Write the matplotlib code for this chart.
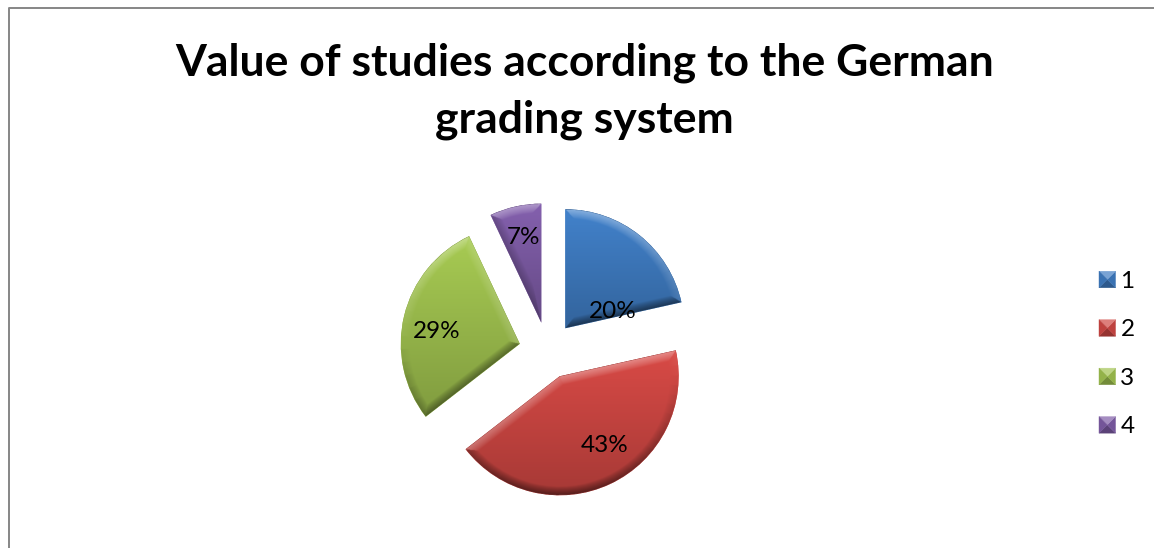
import numpy as np
import matplotlib
matplotlib.use('Agg')
import matplotlib.pyplot as plt
from matplotlib.colors import to_rgb
from matplotlib.patches import Polygon, Patch
from matplotlib.legend_handler import HandlerBase
from matplotlib.lines import Line2D

plt.rcParams['font.family'] = ['Lato', 'DejaVu Sans']

title = 'Value of studies according to the German\ngrading system'
categories = ['1', '2', '3', '4']
values = [21.5, 43, 28.5, 7]
pct_labels = ['20%', '43%', '29%', '7%']
colors = ['#3F7CC2', '#CF4743', '#A0C24F', '#7E5CA6']

W, H = 1154, 548
label_pos = [(613, 312), (605, 446), (437, 332), (523, 238)]


def shade(base, top, normal_y, edge_w):
    # base colour darkens toward the bottom, edges catch light from above
    t = np.clip(top, 0, 1)
    rgb = np.array(to_rgb(base))[None, None, :] * (1.05 - 0.25 * t)[..., None]
    light = (normal_y * edge_w)[..., None]
    rgb = np.where(light > 0, rgb + (1 - rgb) * light * 0.36, rgb * (1 + light * 0.5))
    return np.clip(rgb, 0, 1)


def bevel_image(ax, wedge, base, width=9):
    poly = wedge.get_patch_transform().transform_path(wedge.get_path()).to_polygons()[0]
    x0, y0 = np.floor(poly.min(axis=0)) - 1
    x1, y1 = np.ceil(poly.max(axis=0)) + 1
    xs = np.arange(x0, x1, 0.5) + 0.25
    ys = np.arange(y0, y1, 0.5) + 0.25
    gx, gy = np.meshgrid(xs, ys)
    best = np.full(gx.shape, np.inf)
    ny = np.zeros(gx.shape)
    for a, b in zip(poly[:-1], poly[1:]):
        d = b - a
        L = (d ** 2).sum()
        if L == 0:
            continue
        s = np.clip(((gx - a[0]) * d[0] + (gy - a[1]) * d[1]) / L, 0, 1)
        cx, cy = a[0] + s * d[0], a[1] + s * d[1]
        dist = np.hypot(gx - cx, gy - cy)
        hit = dist < best
        best[hit] = dist[hit]
        ny[hit] = ((cy - gy) / np.maximum(dist, 1e-6))[hit]
    edge_w = np.clip(1 - best / width, 0, 1) ** 0.8
    top = (y1 - gy) / (y1 - y0)
    im = ax.imshow(shade(base, top, ny, edge_w), origin='lower',
                   extent=(x0, x1, y0, y1), interpolation='bilinear',
                   aspect='equal', zorder=2)
    im.set_clip_path(wedge)


class BevelSquare(HandlerBase):
    def create_artists(self, legend, handle, xd, yd, w, h, fs, trans):
        base = np.array(to_rgb(handle.get_facecolor()))
        s = min(w, h)
        x0, y0 = -xd, -yd + (h - s) / 2
        cx, cy = x0 + s / 2, y0 + s / 2
        c = [(x0, y0), (x0 + s, y0), (x0 + s, y0 + s), (x0, y0 + s)]
        tones = [base * 0.72, base * 0.92, base + (1 - base) * 0.3, base * 0.92]
        out = []
        for i, tone in enumerate(tones):
            out.append(Polygon([c[i], c[(i + 1) % 4], (cx, cy)], closed=True,
                               facecolor=tone, edgecolor=tone, lw=0.3, transform=trans))
        return out


fig = plt.figure(figsize=(W / 100, H / 100), dpi=100)
ax = fig.add_axes([0, 0, 1, 1])

# explode is in data units here, radius is in pixels
wedges, _ = ax.pie(values, colors=colors, explode=[28.5] * 4, startangle=90,
                   counterclock=False, radius=119, center=(547.5, H - 350.5),
                   frame=True, wedgeprops={'linewidth': 0})
for w, c in zip(wedges, colors):
    bevel_image(ax, w, c)

ax.set_xlim(0, W)
ax.set_ylim(0, H)
ax.set_aspect('auto')
ax.axis('off')

for (x, y), s in zip(label_pos, pct_labels):
    ax.text(x, H - y, s, fontsize=17.5, ha='center', va='center', color='black', zorder=3)

ax.text(584.5, H - 91.5, title, fontsize=32, fontweight='bold', ha='center', va='center',
        linespacing=1.49, color='black')

# chart frame, only top and left fall inside the crop
ax.add_line(Line2D([W, 8.5, 8.5], [H - 7.5, H - 7.5, 0], color='#868686', lw=1.4))

handles = [Patch(facecolor=c, label=n) for c, n in zip(colors, categories)]
ax.legend(handles=handles, loc='upper left', bbox_to_anchor=(1099 / W, 1 - 271 / H),
          frameon=False, fontsize=17.5, borderpad=0, borderaxespad=0,
          handlelength=0.68, handleheight=0.68, handletextpad=0.2, labelspacing=1.13,
          handler_map={Patch: BevelSquare()})

fig.savefig('out.png', dpi=100)
